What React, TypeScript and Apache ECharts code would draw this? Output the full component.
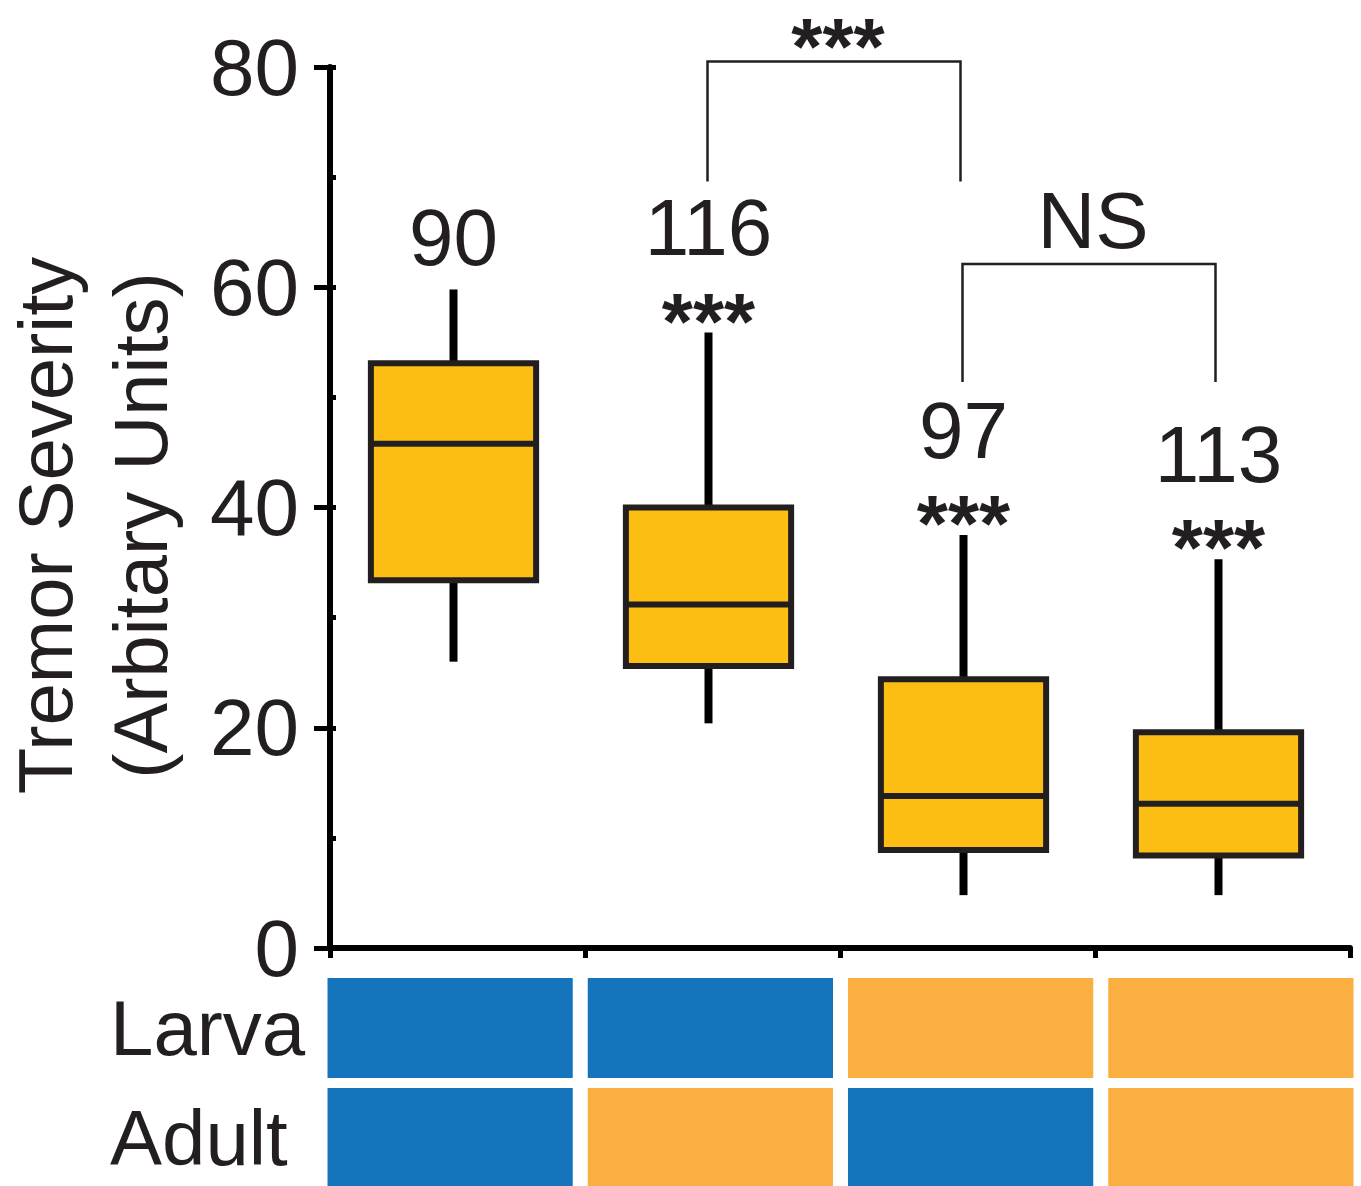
import React, { useEffect, useRef } from "react";
import * as echarts from "echarts";

// ---- data ----
const groups = ["G1", "G2", "G3", "G4"];
const whiskerLow = [26.0, 20.4, 4.8, 4.8];
const quartile1 = [33.4, 25.6, 8.9, 8.4];
const medians = [45.8, 31.2, 13.8, 13.1];
const quartile3 = [53.1, 40.0, 24.4, 19.6];
const whiskerHigh = [59.8, 55.9, 37.5, 35.3];
const sampleSizes = ["90", "116", "97", "113"];
const significance = ["", "***", "***", "***"];

const stages = ["Larva", "Adult"];
const larvaCondition = [0, 0, 1, 1];
const adultCondition = [0, 1, 0, 1];

const bracketFrom = [1, 2];
const bracketTo = [2, 3];
const bracketTop = [80.5, 62.1];
const bracketLegEnd = [69.6, 51.4];
const bracketText = ["***", "NS"];

const yMin = 0;
const yMax = 80;
const yInterval = 20;

// ---- styles ----
const FONT = '"Liberation Sans", Arial, Helvetica, sans-serif';
const INK = "#231F20";
const BOX_FILL = "#FDBE14";
const BLUE = "#1574BB";
const ORANGE = "#FBAF41";
const conditionColors = [BLUE, ORANGE];
const STAR_SIZE = 80;
const NUM_SIZE = 80;

function textEl(x: number, y: number, text: string, size: number, isStar: boolean) {
  return {
    type: "text",
    x,
    y: isStar ? y + size * 0.22 : y,
    style: {
      text,
      fill: INK,
      fontSize: size,
      fontFamily: FONT,
      fontWeight: isStar ? "bold" : "normal",
      lineHeight: isStar ? 40 : size,
      align: "center",
      verticalAlign: "middle",
      textAlign: "center",
      textVerticalAlign: "middle",
    },
  };
}

export default function App() {
  const ref = useRef<HTMLDivElement>(null);

  useEffect(() => {
    if (!ref.current) return;
    const chart = echarts.init(ref.current, undefined, { renderer: "svg" });

    const boxData = groups.map((_, i) => [
      i,
      whiskerLow[i],
      quartile1[i],
      medians[i],
      quartile3[i],
      whiskerHigh[i],
    ]);
    const annoData = groups.map((_, i) => [i, whiskerHigh[i]]);
    const bracketData = bracketFrom.map((f, i) => [f, bracketTo[i], bracketTop[i], bracketLegEnd[i]]);
    const cellData: number[][] = [];
    groups.forEach((_, c) => {
      cellData.push([c, 0, larvaCondition[c]]);
      cellData.push([c, 1, adultCondition[c]]);
    });

    const option: any = {
      animation: false,
      backgroundColor: "#ffffff",
      grid: [
        { left: 330, right: 11, top: 67, bottom: 238, outerBoundsMode: "none", containLabel: false },
        { left: 320, right: 0, top: 973, height: 220, outerBoundsMode: "none", containLabel: false },
      ],
      xAxis: [
        {
          type: "category",
          gridIndex: 0,
          data: groups,
          boundaryGap: true,
          axisLine: { show: true, lineStyle: { color: "#000", width: 6 } },
          axisTick: { show: true, length: 10, lineStyle: { color: "#000", width: 5 } },
          axisLabel: { show: false },
          splitLine: { show: false },
        },
        {
          type: "category",
          gridIndex: 1,
          data: groups,
          show: false,
        },
      ],
      yAxis: [
        {
          type: "value",
          gridIndex: 0,
          min: yMin,
          max: yMax,
          interval: yInterval,
          name: "Tremor Severity\n(Arbitary Units)",
          nameLocation: "middle",
          nameGap: 142,
          nameRotate: 90,
          nameTextStyle: {
            fontSize: 76,
            lineHeight: 95,
            fontFamily: FONT,
            color: INK,
            padding: [0, 36, 0, 0],
          },
          axisLine: { show: true, lineStyle: { color: "#000", width: 6 } },
          axisTick: { show: true, length: 16, lineStyle: { color: "#000", width: 5 } },
          axisLabel: {
            fontSize: 80,
            lineHeight: 60,
            fontFamily: FONT,
            color: INK,
            margin: 31,
          },
          splitLine: { show: false },
        },
        {
          type: "value",
          gridIndex: 0,
          min: yMin,
          max: yMax,
          interval: yInterval,
          position: "left",
          offset: 0,
          axisLine: { show: false },
          axisTick: { show: true, inside: true, length: 6, lineStyle: { color: "#000", width: 5 } },
          minorTick: { show: true, splitNumber: 2, length: 6, lineStyle: { color: "#000", width: 5 } },
          axisLabel: { show: false },
          splitLine: { show: false },
        },
        {
          type: "category",
          gridIndex: 1,
          data: stages,
          inverse: true,
          axisLine: { show: false },
          axisTick: { show: false },
          axisLabel: {
            fontSize: 78,
            lineHeight: 60,
            fontFamily: FONT,
            color: INK,
            align: "left",
            margin: 210,
            padding: [4, 0, 0, 0],
          },
        },
      ],
      series: [
        {
          type: "custom",
          name: "box",
          xAxisIndex: 0,
          yAxisIndex: 0,
          data: boxData,
          renderItem: (params: any, api: any) => {
            const i = api.value(0);
            const lo = api.coord([i, api.value(1)]);
            const q1 = api.coord([i, api.value(2)]);
            const md = api.coord([i, api.value(3)]);
            const q3 = api.coord([i, api.value(4)]);
            const hi = api.coord([i, api.value(5)]);
            const bw = api.size([1, 0])[0] * 0.648;
            const x = lo[0] - 4;
            return {
              type: "group",
              children: [
                { type: "line", shape: { x1: x, y1: hi[1], x2: x, y2: q3[1] }, style: { stroke: "#000", lineWidth: 8 } },
                { type: "line", shape: { x1: x, y1: q1[1], x2: x, y2: lo[1] }, style: { stroke: "#000", lineWidth: 8 } },
                {
                  type: "rect",
                  shape: { x: x - bw / 2, y: q3[1], width: bw, height: q1[1] - q3[1] },
                  style: { fill: BOX_FILL, stroke: INK, lineWidth: 6 },
                },
                {
                  type: "line",
                  shape: { x1: x - bw / 2, y1: md[1], x2: x + bw / 2, y2: md[1] },
                  style: { stroke: INK, lineWidth: 6 },
                },
              ],
            };
          },
        },
        {
          type: "custom",
          name: "annotations",
          xAxisIndex: 0,
          yAxisIndex: 0,
          data: annoData,
          renderItem: (params: any, api: any) => {
            const i = params.dataIndex;
            const top = api.coord([api.value(0), api.value(1)]);
            const x = top[0] - 4;
            const children: any[] = [];
            const sig = significance[i];
            if (sig) children.push(textEl(x, top[1] - 29, sig, STAR_SIZE, true));
            children.push(textEl(x, top[1] - (sig ? 105 : 52), sampleSizes[i], NUM_SIZE, false));
            return { type: "group", children };
          },
        },
        {
          type: "custom",
          name: "brackets",
          xAxisIndex: 0,
          yAxisIndex: 0,
          data: bracketData,
          renderItem: (params: any, api: any) => {
            const i = params.dataIndex;
            const a = api.coord([api.value(0), api.value(2)]);
            const b = api.coord([api.value(1), api.value(2)]);
            const legEnd = api.coord([api.value(0), api.value(3)])[1];
            const ax = a[0] - 5;
            const bx = b[0] - 7;
            const txt = bracketText[i];
            const isStar = txt.indexOf("*") >= 0;
            return {
              type: "group",
              children: [
                {
                  type: "polyline",
                  shape: { points: [[ax, legEnd], [ax, a[1]], [bx, b[1]], [bx, legEnd]] },
                  style: { stroke: INK, lineWidth: 2.5, fill: null },
                },
                textEl((ax + bx) / 2 + 4, a[1] - (isStar ? 33 : 44), txt, isStar ? STAR_SIZE : NUM_SIZE, isStar),
              ],
            };
          },
        },
        {
          type: "custom",
          name: "conditions",
          xAxisIndex: 1,
          yAxisIndex: 2,
          data: cellData,
          renderItem: (params: any, api: any) => {
            const c = api.coord([api.value(0), api.value(1)]);
            const w = api.size([1, 0])[0] - 15;
            const h = api.size([0, 1])[1] - 10;
            return {
              type: "rect",
              shape: { x: c[0] - w / 2, y: c[1] - h / 2, width: w, height: h },
              style: { fill: conditionColors[api.value(2)] },
            };
          },
        },
      ],
    };

    chart.setOption(option);
    return () => chart.dispose();
  }, []);

  return (
    <div
      ref={ref}
      style={{ position: "absolute", left: 0, top: 0, width: 1361, height: 1186, background: "#fff" }}
    />
  );
}
